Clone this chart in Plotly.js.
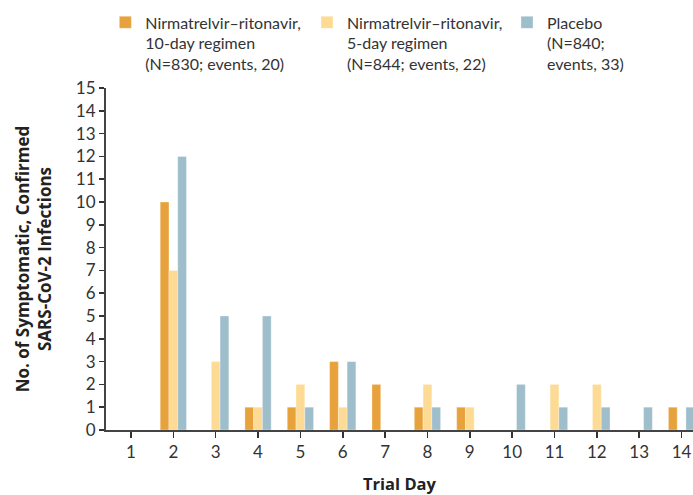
<!DOCTYPE html>
<html>
<head>
<meta charset="utf-8">
<script src="https://cdn.plot.ly/plotly-3.0.1.min.js"></script>
<style>html,body{margin:0;padding:0;background:#fff;}#chart{width:693px;height:495px;}</style>
</head>
<body>
<div id="chart"></div>
<script>
const days = [1,2,3,4,5,6,7,8,9,10,11,12,13,14];
const tenDay = [0,10,0,1,1,3,2,1,1,0,0,0,0,1];
const fiveDay = [0,7,3,1,2,1,0,2,1,0,2,2,0,0];
const placebo = [0,12,5,5,1,3,0,1,0,2,1,1,1,1];
const seriesNames = [
  'Nirmatrelvir–ritonavir,<br>10-day regimen<br>(N=830; events, 20)',
  'Nirmatrelvir–ritonavir,<br>5-day regimen<br>(N=844; events, 22)',
  'Placebo<br>(N=840;<br>events, 33)'
];
const yTicks = [0,1,2,3,4,5,6,7,8,9,10,11,12,13,14,15];

const colors = ['#E8A23C','#FDDB94','#9FBECC'];
const font = 'Lato, "Open Sans", sans-serif';
const titleFont = '"Open Sans", Lato, sans-serif';
const vals = [tenDay, fiveDay, placebo];
const legendIds = ['legend','legend2','legend3'];
const legendX = [0.152, 0.443, 0.7316];
const traces = vals.map((v,i)=>({
  type:'bar', x: days, y: v, name: seriesNames[i], legend: legendIds[i],
  marker:{color: colors[i], line:{color:'rgba(255,255,255,0.6)', width:0.5}}
}));
const layout = {
  width:693, height:495,
  margin:{l:106, r:0, t:88, b:65},
  paper_bgcolor:'#fff', plot_bgcolor:'#fff',
  barmode:'group', bargap:0.38, bargroupgap:0,
  font:{family:font, color:'#333', size:16},
  showlegend:true,
  xaxis:{range:[0.41,14.27], tickvals:days, ticktext:days.map(String), ticks:'outside', ticklen:6, tickwidth:1.5, tickcolor:'#333',
    showline:true, linecolor:'#444', linewidth:2, showgrid:false, zeroline:false,
    tickfont:{family:font, size:17, color:'#333'},
    title:{text:'<b>Trial Day</b>', font:{family:titleFont, size:16.5, color:'#222'}, standoff:20}},
  yaxis:{range:[0,15], tickvals:yTicks, ticks:'outside', ticklen:5, tickwidth:1.5, tickcolor:'#333',
    showline:true, linecolor:'#444', linewidth:2, showgrid:false, zeroline:false,
    tickfont:{family:font, size:17, color:'#333'},
    title:{text:'<b>No. of Symptomatic, Confirmed<br>SARS-CoV-2 Infections</b>', font:{family:titleFont, size:17, color:'#222'}, standoff:20}}
};
legendIds.forEach((id,i)=>{
  layout[id] = {orientation:'h', xref:'container', yref:'container', x:legendX[i], y:0.989, xanchor:'left', yanchor:'top',
    valign:'top', font:{family:font, size:16, color:'#333'}, itemwidth:30, bgcolor:'rgba(0,0,0,0)'};
});
Plotly.newPlot('chart', traces, layout, {displayModeBar:false, staticPlot:true});
</script>
</body>
</html>
